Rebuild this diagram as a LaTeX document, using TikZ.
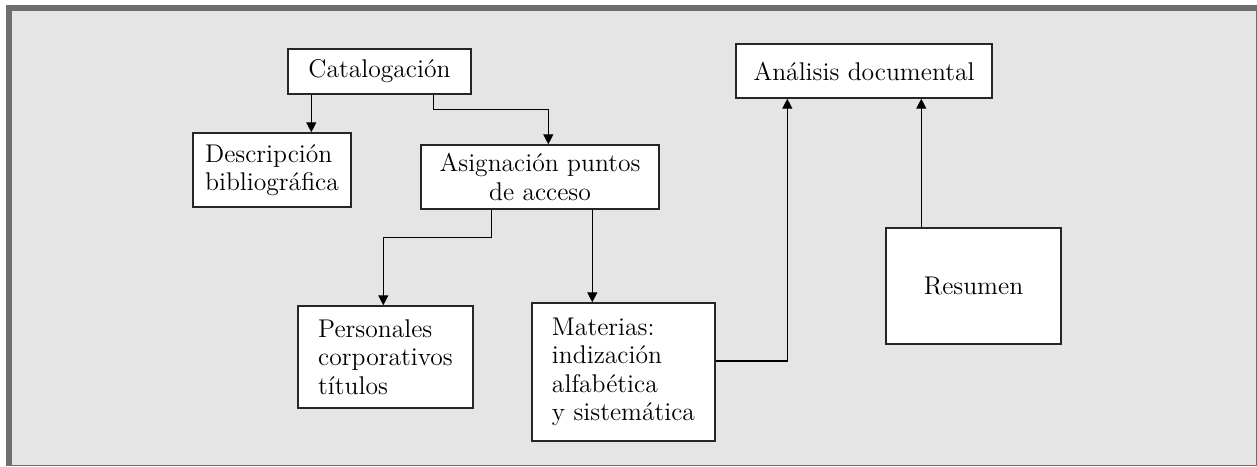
\documentclass[tikz,border=0pt]{standalone}
\usepackage{xcolor}
\usepackage{tikz}
\usetikzlibrary{calc}
\usetikzlibrary{arrows.meta}

\definecolor{marco}{HTML}{6E6E6E}
\definecolor{fondo}{HTML}{E5E5E5}

\tikzset{
  caja/.style={draw=black!85, fill=white, line width=0.7pt, inner sep=0pt, font=\fontsize{12.8}{14.2}\selectfont},
  flecha/.style={line width=0.65pt, -{Triangle[width=5pt,length=5pt]}}
}

\begin{document}
\begin{tikzpicture}[x=0.5pt, y=-0.5pt]
        \useasboundingbox (0,0) rectangle (1257,466);

        %FONDO
        \fill[marco] (6,5) rectangle (1257,466);
        \fill[fondo] (12,11) rectangle (1255.5,464.5);

        %CAJAS
        \node[caja, minimum width=91.5pt, minimum height=22.5pt] (cat) at (379.5,71.5) {Catalogación};
        \node[caja, minimum width=79pt, minimum height=37pt, align=left] (desc) at (272,170) {Descripción\\bibliográfica};
        \node[caja, minimum width=119pt, minimum height=32pt, align=center] (asig) at (540,177) {Asignación puntos\\de acceso};
        \node[caja, minimum width=128pt, minimum height=27pt] (anal) at (864,71) {Análisis documental};
        \node[caja, minimum width=87.5pt, minimum height=51pt, align=left] (pers) at (385.5,357) {Personales\\corporativos\\títulos};
        \node[caja, minimum width=91.5pt, minimum height=69pt, align=left] (mat) at (623.5,372) {Materias:\\indización\\alfabética\\y sistemática};
        \node[caja, minimum width=87.5pt, minimum height=58pt] (res) at (973.5,286) {Resumen};

        %FLECHAS
        \coordinate (c1) at ($(cat.south west)+(24,0)$);
        \draw[flecha] (c1) -- (c1 |- desc.north);

        \coordinate (c2) at ($(cat.south west)+(146,0)$);
        \coordinate (c3) at ($(asig.north west)+(128,0)$);
        \draw[flecha] (c2) -- ++(0,15) -| (c3);

        \coordinate (c4) at ($(asig.south west)+(71,0)$);
        \coordinate (c5) at ($(pers.north west)+(86,0)$);
        \draw[flecha] (c4) -- ++(0,28) -| (c5);

        \coordinate (c6) at ($(asig.south west)+(172,0)$);
        \draw[flecha] (c6) -- (c6 |- mat.north);

        \coordinate (c7) at ($(mat.east)+(0,-11)$);
        \coordinate (c8) at ($(anal.south west)+(52,0)$);
        \draw[flecha] (c7) -| (c8);

        \coordinate (c9) at ($(anal.south west)+(186,0)$);
        \draw[flecha] (c9 |- res.north) -- (c9);
\end{tikzpicture}
\end{document}
